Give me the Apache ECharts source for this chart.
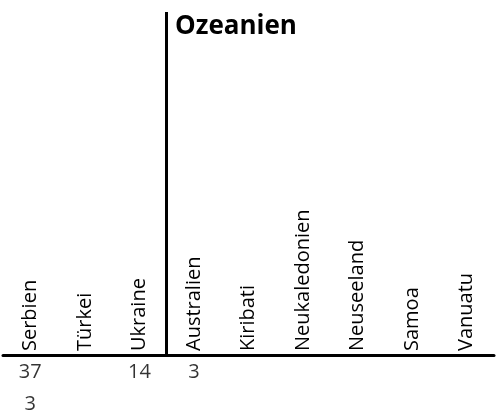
<!DOCTYPE html>
<html>
<head>
<meta charset="utf-8">
<script src="https://cdn.jsdelivr.net/npm/echarts@6/dist/echarts.min.js"></script>
<style>html,body{margin:0;padding:0;background:#fff}#c{width:501px;height:420px}</style>
</head>
<body>
<div id="c"></div>
<script>
var titleText = 'Ozeanien';
var categories = ['Serbien', 'Türkei', 'Ukraine', 'Australien', 'Kiribati', 'Neukaledonien', 'Neuseeland', 'Samoa', 'Vanuatu'];
var rowNames = ['Zeile 1', 'Zeile 2'];
var row1Values = [37, null, 14, 3, null, null, null, null, null];
var row2Values = [3, null, null, null, null, null, null, null, null];
var separatorAfterIndex = 3; // boundary before Australien

var cellData = [];
[row1Values, row2Values].forEach(function (row, r) {
  row.forEach(function (v, i) {
    if (v !== null) cellData.push([i, r, v]);
  });
});

var FONT = '"Open Sans", sans-serif';
var chart = echarts.init(document.getElementById('c'), null, {renderer: 'canvas'});
chart.setOption({
  animation: false,
  backgroundColor: '#fff',
  title: {
    text: titleText, left: 170, top: 9,
    textStyle: {fontFamily: FONT, fontSize: 26, fontWeight: 'bold', color: '#000'}
  },
  grid: [
    {left: 3, right: 7, top: 12, bottom: 65},
    {left: 3, right: 7, top: 356, height: 64}
  ],
  xAxis: [
    {
      type: 'category', gridIndex: 0, data: categories, boundaryGap: true,
      axisLine: {show: true, lineStyle: {color: '#000', width: 3}},
      axisTick: {show: false},
      axisLabel: {inside: true, rotate: 90, margin: 4, fontFamily: FONT, fontSize: 20, color: '#000', interval: 0},
      splitLine: {show: false}
    },
    {type: 'category', gridIndex: 1, data: categories, show: false},
    {type: 'value', gridIndex: 0, min: 0, max: categories.length, show: false}
  ],
  yAxis: [
    {type: 'value', gridIndex: 0, show: false, min: 0, max: 1, splitLine: {show: false}},
    {type: 'category', gridIndex: 1, data: rowNames, inverse: true, show: false}
  ],
  series: [
    {
      type: 'line', xAxisIndex: 2, yAxisIndex: 0, data: [],
      markLine: {
        silent: true, symbol: 'none',
        label: {show: false},
        lineStyle: {color: '#000', width: 3, type: 'solid'},
        data: [{xAxis: separatorAfterIndex}]
      }
    },
    {
      type: 'scatter', xAxisIndex: 1, yAxisIndex: 1, symbolSize: 1,
      itemStyle: {color: 'rgba(0,0,0,0)'},
      data: cellData,
      label: {
        show: true, position: 'inside',
        formatter: function (p) { return p.value[2]; },
        fontFamily: FONT, fontSize: 20, color: '#000'
      }
    }
  ]
});
</script>
</body>
</html>
